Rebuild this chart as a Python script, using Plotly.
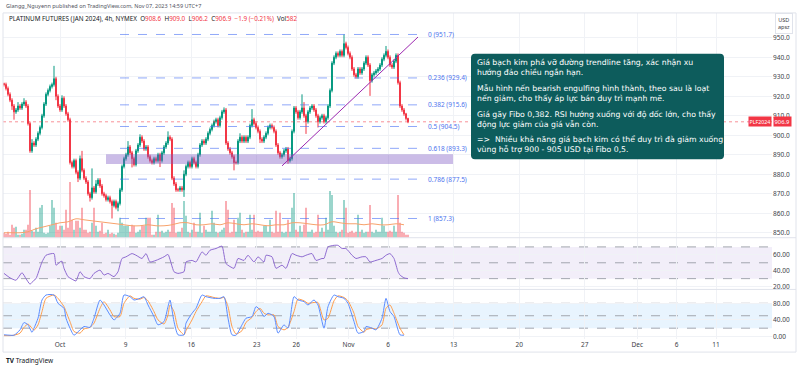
import plotly.graph_objects as go

W, H = 800, 370

# ---------------- data ----------------
first_open = 926.5
closes = [
    926, 924, 921, 918, 915, 912, 913, 915, 914, 916,
    917, 915, 906, 892, 896, 895, 898, 901, 904, 910,
    916, 921, 923, 925, 926, 929, 920, 915, 913, 919,
    915, 911, 908, 886, 884, 887, 881, 878, 888, 882,
    878, 876, 870, 868, 873, 871, 875, 877, 874, 870,
    869, 867, 868, 866, 864, 866, 863, 865, 872, 884,
    888, 890, 894, 891, 888, 885, 892, 895, 899, 897,
    893, 894, 889, 887, 886, 888, 887, 890, 887, 891,
    894, 896, 899, 898, 878, 875, 872, 872, 873, 872,
    880, 884, 886, 884, 888, 886, 884, 890, 895, 897,
    896, 898, 901, 903, 905, 907, 908, 905, 909, 912,
    913, 896, 893, 891, 889, 886, 886, 897, 899, 897,
    899, 897, 899, 905, 908, 906, 904, 902, 898, 897,
    899, 901, 904, 905, 904, 902, 895, 891, 889, 890,
    892, 893, 887, 888, 902, 914, 912, 909, 912, 914,
    910, 907, 912, 914, 915, 913, 910, 907, 909, 910,
    907, 909, 915, 923, 937, 940, 942, 941, 943, 941,
    947, 945, 942, 940, 934, 931, 930, 934, 932, 934,
    937, 940, 936, 928, 931, 932, 933, 934, 936, 939,
    941, 943, 940, 936, 935, 938, 941, 927, 915, 913,
    911, 908.6, 906.9,
]
wick_up = [
    0.5, 1, 1, 1, 1, 1, 1, 2, 1, 1,
    2, 1, 1, 1, 2, 1, 1, 1, 1, 1,
    1, 1, 1, 1, 1, 6.6, 1, 1, 1, 1.5,
    1, 1, 1, 1, 1, 1, 1, 1, 1.6, 4,
    1, 1, 1, 1, 10, 1, 2, 1, 1, 1,
    1, 1, 1, 1, 1, 1, 1, 1, 1, 1,
    1, 1, 3, 1, 1, 1, 1, 1, 1.5, 1,
    1, 1, 1, 1, 1, 1, 1, 1, 1, 1,
    1, 1, 3, 1, 1, 1, 1, 1, 1, 1,
    2, 1, 1, 1, 1, 1, 1, 1, 1, 1,
    1, 1, 1, 1, 1, 1, 1, 1, 1, 1,
    1.3, 1, 1, 1, 1, 1, 1, 1, 2, 1,
    1, 1, 1, 1, 5.4, 1, 1, 1, 1, 1,
    1, 1, 1, 1, 1, 1, 1, 1, 1, 1,
    1, 1, 1, 1, 1, 1, 1, 1, 1, 7,
    3, 1, 1, 1, 1, 1, 1, 1, 1, 1,
    1, 1, 1, 1, 1, 1, 1, 1, 1, 1,
    4.7, 1, 1, 1, 1, 1, 1, 1, 1, 1,
    1, 1, 1, 1, 1, 1, 1, 1, 1, 1,
    1, 2.8, 1, 1, 1, 1, 1, 1, 1, 1,
    1, 0.5, 0.4,
]
wick_dn = [
    1, 1, 1, 1, 2, 4, 1, 1, 1, 1,
    1, 1, 1, 1, 1, 1, 1, 1, 1, 1,
    1, 1, 1, 1, 1, 1, 2, 1, 1, 1,
    1, 1, 1, 1, 1, 1, 1, 2, 1, 1,
    1, 1, 1, 2, 1, 1, 1, 1, 1, 1,
    1, 1, 1, 1, 6.7, 1, 1, 2, 1, 1,
    1, 1, 1, 1, 4.5, 1, 1, 1, 1, 1,
    1, 1, 1, 1, 1, 1, 1, 1, 3.3, 1,
    1, 1, 1, 1, 1, 1, 1, 1, 1, 1,
    3.6, 1, 1, 1, 1, 1, 1, 1, 1, 1,
    1, 1, 1, 1, 1, 1, 1, 1, 1, 1,
    1, 1, 1, 1, 1, 4, 1, 1, 1, 1,
    1, 1, 1, 1, 1, 1, 1, 1, 2, 1,
    1, 1, 1, 1, 1, 1, 1, 1, 1, 1,
    1, 1, 1.6, 1, 1, 1, 1, 1, 1, 1,
    1, 6.3, 1, 1, 1, 1, 1, 3, 1, 1,
    1, 1, 1, 1, 1, 1, 1, 1, 1, 1,
    1, 1, 1, 1, 1, 1, 1, 1, 1, 1,
    1, 1, 1, 7.8, 1, 1, 1, 1, 1, 1,
    1, 1, 1, 1, 1, 1, 1, 1, 1, 1,
    1, 1, 0.7,
]
volumes = [
    1000, 800, 1200, 600, 2600, 2000, 2200, 600, 600, 800,
    1600, 1600, 2600, 9600, 1400, 1200, 2000, 1200, 6000, 6600,
    1000, 800, 1000, 2400, 7600, 6000, 3000, 1600, 2400, 2400,
    1600, 5600, 2000, 11200, 3600, 1600, 3400, 3400, 2000, 6000,
    1600, 1600, 1000, 1200, 3000, 6000, 2400, 1200, 1400, 3000,
    800, 1000, 1600, 800, 1000, 800, 600, 1000, 4000, 3000,
    2400, 2400, 2400, 1200, 2600, 2400, 1000, 1200, 1600, 2400,
    2400, 4000, 4000, 4000, 600, 600, 1200, 4600, 1200, 1400,
    1000, 1200, 1600, 1200, 7000, 6000, 1000, 1200, 1200, 2000,
    7400, 4400, 1200, 1000, 1600, 3000, 1200, 1200, 5000, 1000,
    2400, 1600, 1200, 1200, 5400, 3000, 1200, 1000, 1200, 1600,
    2000, 7400, 5600, 1000, 1200, 3600, 1200, 4000, 5000, 1600,
    1000, 1200, 1200, 4600, 1600, 4600, 1200, 1400, 1200, 1200,
    2400, 2400, 1200, 3600, 1200, 1000, 5400, 1200, 5000, 1200,
    1000, 1200, 3600, 1200, 6000, 9000, 1600, 1200, 2400, 1200,
    2600, 6000, 1200, 1200, 1600, 1000, 1200, 4600, 1200, 2000,
    1200, 4000, 1600, 9400, 8600, 2400, 1200, 1000, 1200, 1600,
    7600, 6000, 1000, 1200, 1400, 1000, 1200, 4600, 1200, 1600,
    1000, 1200, 1200, 6600, 1200, 1000, 1600, 1200, 1200, 4000,
    2400, 1200, 1200, 1400, 1200, 2400, 1200, 8600, 3000, 1200,
    1000, 600, 582,
]
vol_ma_bar = list(range(0, 201, 4))
vol_ma = [1000, 1000, 1000, 1200, 1800, 2200, 2600, 3000, 3200, 3800,
          3600, 3400, 3200, 3000, 2800, 2600, 2400, 2400, 2600, 2400,
          2400, 2600, 3000, 3000, 2600, 2600, 2800, 2600, 3000, 2800,
          2600, 2800, 2600, 2400, 2600, 2600, 3000, 3000, 2800, 2600,
          2600, 3200, 3000, 2800, 2800, 2600, 2800, 2600, 2600, 2800, 2600]

rsi_bar = [0, 3, 6, 9, 11, 13, 15, 16, 19, 21, 25, 26, 28, 29, 30, 32, 35, 36, 38, 40,
           43, 45, 48, 50, 52, 55, 57, 59, 61, 64, 66, 69, 71, 73, 76, 80, 82, 85, 87, 90,
           91, 94, 96, 99, 101, 103, 106, 109, 111, 115, 117, 120, 122, 125, 127, 130, 131, 134, 136, 139,
           141, 144, 146, 149, 151, 154, 156, 159, 160, 162, 165, 167, 169, 171, 174, 176, 179, 181, 183, 186,
           189, 191, 193, 195, 197, 198, 200, 202]
rsi_val = [36.6, 31, 28, 37.5, 30, 23, 28, 30, 51, 59.5, 61.6, 47, 51, 52, 43, 32.5, 28, 27, 38.7, 32.5,
           30, 36.6, 40.8, 34.5, 36.6, 32.5, 38.7, 55.4, 57.5, 61.6, 59.5, 55.4, 61.6, 51, 53, 57.5, 60.5, 38.7, 36.6, 38.7,
           51, 53, 51, 63.7, 59.5, 65.8, 68, 71, 49, 43, 55.4, 53, 59.5, 51, 57.5, 51, 59.5, 57.5, 43, 47,
           43, 61.6, 59.5, 57.5, 59.5, 61.6, 53, 55.4, 55.4, 70, 72, 72, 68, 68, 59.5, 55.4, 57.5, 57.5, 51, 53,
           55.4, 59.5, 61.6, 55.4, 38.7, 34.5, 31, 30]

stoch_bar = [0, 3, 5, 8, 10, 12, 14, 15, 17, 19, 21, 25, 27, 30, 31, 33, 35, 38, 40, 43,
             45, 48, 50, 53, 55, 58, 60, 63, 65, 68, 70, 72, 75, 77, 80, 82, 83, 85, 87, 90,
             91, 94, 96, 99, 101, 105, 108, 110, 112, 114, 116, 119, 121, 124, 126, 128, 130, 132, 135, 137,
             140, 142, 145, 147, 150, 152, 155, 157, 160, 162, 165, 167, 170, 172, 175, 177, 180, 181, 184, 186,
             189, 191, 193, 195, 198, 200]
stoch_k = [4, 3, 3, 16, 33.6, 28, 10, 20, 44, 88, 100, 100, 80, 68, 44, 20, 3, 16, 24, 22,
           44, 88, 76, 52, 40, 56, 100, 96, 88, 92, 96, 76, 48, 28, 36, 72, 88, 36, 4, 4,
           32, 56, 68, 100, 96, 92, 92, 96, 44, 4, 3, 28, 44, 48, 72, 64, 48, 56, 48, 8,
           28, 20, 96, 88, 84, 76, 88, 76, 20, 72, 100, 96, 92, 80, 36, 8, 12, 24, 20, 16,
           44, 92, 60, 48, 4, 3]
stoch_d = [2, 2, 3, 8, 22, 30, 20, 15, 28, 60, 92, 100, 92, 72, 60, 36, 12, 8, 18, 22,
           32, 68, 84, 64, 48, 48, 80, 98, 92, 90, 94, 86, 60, 40, 30, 52, 76, 60, 20, 4,
           14, 40, 60, 84, 98, 94, 92, 94, 72, 24, 6, 14, 34, 46, 60, 68, 56, 52, 52, 24,
           16, 22, 60, 90, 86, 80, 82, 82, 40, 44, 86, 98, 94, 86, 56, 24, 10, 16, 20, 18,
           28, 68, 76, 56, 20, 4]

fib_ratio = ["0", "0.236", "0.382", "0.5", "0.618", "0.786", "1"]
fib_price = [951.7, 929.4, 915.6, 904.5, 893.3, 877.5, 857.3]

tick_labels = ["Oct", "9", "16", "23", "26", "Nov", "6", "13", "20", "27", "Dec", "6", "11"]
tick_days = [0, 5, 10, 15, 18, 22, 25, 30, 35, 40, 44, 47, 50]  # weekdays after Oct 2

price_ticks = [850, 860, 870, 880, 890, 900, 910, 920, 930, 940, 950]
zone_low, zone_high = 885.2, 890.3
trend_start = (139, 884.3)
trend_end = (207, 950.4)
last_price = 906.9

note_paragraphs = [
    "Giá bạch kim phá vỡ đường trendline tăng, xác nhận xu<br>hướng đảo chiều ngắn hạn.",
    "Mẫu hình nến bearish engulfing hình thành, theo sau là loạt<br>nến giảm, cho thấy áp lực bán duy trì mạnh mẽ.",
    "Giá gãy Fibo 0,382. RSI hướng xuống với độ dốc lớn, cho thấy<br>động lực giảm của giá vẫn còn.",
    "=>  Nhiều khả năng giá bạch kim có thể duy trì đà giảm xuống<br>vùng hỗ trợ 900 - 905 USD tại Fibo 0,5.",
]

# ---------------- derived ----------------
n = len(closes)
bars = list(range(n))
opens = [first_open] + closes[:-1]
highs = [max(o, c) + u for o, c, u in zip(opens, closes, wick_up)]
lows = [min(o, c) - d for o, c, d in zip(opens, closes, wick_dn)]
UP, DN = "#089981", "#f23645"
vol_colors = ["rgba(8,153,129,0.45)" if c >= o else "rgba(242,54,69,0.45)" for o, c in zip(opens, closes)]

OCT2_BAR = 28
BARS_PER_DAY = 6.56
tick_pos = [OCT2_BAR + d * BARS_PER_DAY for d in tick_days]

def px_x(p):
    return p / W

def px_y(p):
    return 1 - p / H

FONT = "Noto Sans"
AXIS_FONT = dict(family=FONT, size=6.5, color="#3b3e47")
GRID = "#f0f2f6"
XR = [-0.5, 384]
XDOM = [px_x(3), px_x(772)]

fig = go.Figure()

fig.add_trace(go.Bar(x=bars, y=volumes, marker=dict(color=vol_colors, line=dict(width=0)),
                     width=0.9, xaxis="x", yaxis="y2", hoverinfo="skip", showlegend=False))
fig.add_trace(go.Scatter(x=vol_ma_bar, y=vol_ma, mode="lines", line=dict(color="#f7a26b", width=1, shape="spline"),
                         xaxis="x", yaxis="y2", hoverinfo="skip", showlegend=False))
fig.add_trace(go.Candlestick(x=bars, open=opens, high=highs, low=lows, close=closes,
                             increasing=dict(line=dict(color=UP, width=1), fillcolor=UP),
                             decreasing=dict(line=dict(color=DN, width=1), fillcolor=DN),
                             whiskerwidth=0, xaxis="x", yaxis="y", hoverinfo="skip", showlegend=False))
fig.add_trace(go.Scatter(x=rsi_bar, y=rsi_val, mode="lines",
                         line=dict(color="#8e6bd0", width=1, shape="spline", smoothing=0.5),
                         xaxis="x2", yaxis="y3", hoverinfo="skip", showlegend=False))
fig.add_trace(go.Scatter(x=stoch_bar, y=stoch_d, mode="lines",
                         line=dict(color="#ff9c4a", width=1, shape="spline", smoothing=0.6),
                         xaxis="x3", yaxis="y4", hoverinfo="skip", showlegend=False))
fig.add_trace(go.Scatter(x=stoch_bar, y=stoch_k, mode="lines",
                         line=dict(color="#5b8cff", width=1, shape="spline", smoothing=0.6),
                         xaxis="x3", yaxis="y4", hoverinfo="skip", showlegend=False))

shapes = []
shapes.append(dict(type="rect", xref="x2 domain", yref="y3", x0=0, x1=1, y0=30, y1=70,
                   fillcolor="rgba(126,87,194,0.10)", line=dict(width=0), layer="below"))
for lv in (70, 50, 30):
    shapes.append(dict(type="line", xref="x2 domain", yref="y3", x0=0, x1=1, y0=lv, y1=lv,
                       line=dict(color="#a3a6af", width=1, dash="dash"), layer="below"))
shapes.append(dict(type="rect", xref="x3 domain", yref="y4", x0=0, x1=1, y0=20, y1=80,
                   fillcolor="rgba(33,150,243,0.10)", line=dict(width=0), layer="below"))
for lv in (80, 50, 20):
    shapes.append(dict(type="line", xref="x3 domain", yref="y4", x0=0, x1=1, y0=lv, y1=lv,
                       line=dict(color="#a3a6af", width=1, dash="dash"), layer="below"))
shapes.append(dict(type="line", xref="x domain", yref="y", x0=0, x1=1, y0=last_price, y1=last_price,
                   line=dict(color="rgba(242,54,69,0.55)", width=1, dash="dot")))
shapes.append(dict(type="rect", xref="x", yref="y", x0=51, x1=224.5, y0=zone_low, y1=zone_high,
                   fillcolor="rgba(126,87,194,0.40)", line=dict(width=0)))
for p in fib_price:
    shapes.append(dict(type="line", xref="x", yref="y", x0=58, x1=209.5, y0=p, y1=p,
                       line=dict(color="rgba(70,110,245,0.6)", width=1, dash="dash")))
shapes.append(dict(type="line", xref="x", yref="y", x0=trend_start[0], y0=trend_start[1],
                   x1=trend_end[0], y1=trend_end[1], line=dict(color="#9c27b0", width=1)))
shapes.append(dict(type="rect", xref="paper", yref="paper", x0=px_x(3), x1=px_x(796),
                   y0=px_y(354), y1=px_y(13), line=dict(color="#e0e3eb", width=1)))
for yy in (239, 291):
    shapes.append(dict(type="line", xref="paper", yref="paper", x0=px_x(3), x1=px_x(796),
                       y0=px_y(yy), y1=px_y(yy), line=dict(color="#e0e3eb", width=1)))
bx0, bx1, by0, by1 = px_x(471), px_x(724), px_y(160), px_y(54)
rx, ry = 4 / W, 4 / H
path = (f"M {bx0+rx},{by1} L {bx1-rx},{by1} Q {bx1},{by1} {bx1},{by1-ry} "
        f"L {bx1},{by0+ry} Q {bx1},{by0} {bx1-rx},{by0} L {bx0+rx},{by0} "
        f"Q {bx0},{by0} {bx0},{by0+ry} L {bx0},{by1-ry} Q {bx0},{by1} {bx0+rx},{by1} Z")
shapes.append(dict(type="path", xref="paper", yref="paper", path=path,
                   fillcolor="#0d5c5c", line=dict(width=0)))

ann = []
for r, p in zip(fib_ratio, fib_price):
    ann.append(dict(x=211, y=p, xref="x", yref="y", text=f"{r} ({p})", showarrow=False,
                    xanchor="left", yanchor="middle", font=dict(family=FONT, size=6.5, color="#4d74ee")))
para_y = [68.3, 94.3, 120, 145.5]
for t, yy in zip(note_paragraphs, para_y):
    ann.append(dict(x=px_x(476), y=px_y(yy), xref="paper", yref="paper", text=t, showarrow=False,
                    xanchor="left", yanchor="middle", align="left", borderpad=0,
                    font=dict(family="DejaVu Sans", size=7.75, color="white")))
ann.append(dict(x=px_x(4), y=px_y(6.5), xref="paper", yref="paper", showarrow=False,
                xanchor="left", yanchor="middle",
                text="Glangg_Nguyenn published on TradingView.com, Nov 07, 2023 14:59 UTC+7",
                font=dict(family=FONT, size=5.5, color="#50535e")))
red = "#f23645"
legend = ("PLATINUM FUTURES (JAN 2024), 4h, NYMEX  "
          f"O<span style='color:{red}'>908.6</span>  H<span style='color:{red}'>909.0</span>  "
          f"L<span style='color:{red}'>906.2</span>  C<span style='color:{red}'>906.9</span>  "
          f"<span style='color:{red}'>−1.9 (−0.21%)</span>  Vol<span style='color:{red}'>582</span>")
ann.append(dict(x=px_x(7), y=px_y(18.5), xref="paper", yref="paper", showarrow=False,
                xanchor="left", yanchor="middle", text=legend,
                font=dict(family=FONT, size=6.3, color="#131722")))
ann.append(dict(x=px_x(772), y=last_price, xref="paper", yref="y", showarrow=False,
                xanchor="right", yanchor="middle", text="PLF2024", bgcolor=red, borderpad=0.5,
                font=dict(family=FONT, size=5.3, color="white")))
ann.append(dict(x=px_x(773), y=last_price, xref="paper", yref="y", showarrow=False,
                xanchor="left", yanchor="middle", text="906.9", bgcolor=red, borderpad=0.5,
                font=dict(family=FONT, size=5.8, color="white")))
ann.append(dict(x=px_x(784), y=px_y(24), xref="paper", yref="paper", showarrow=False,
                xanchor="center", yanchor="middle", text="USD<br>apsz", bgcolor="white",
                bordercolor="#e0e3eb", borderwidth=1, borderpad=2,
                font=dict(family=FONT, size=5.5, color="#3b3e47")))
ann.append(dict(x=px_x(4), y=px_y(362), xref="paper", yref="paper", showarrow=False,
                xanchor="left", yanchor="middle", text="<b>TV</b> TradingView",
                font=dict(family=FONT, size=6.5, color="#131722")))

common_x = dict(range=XR, domain=XDOM, showgrid=True, gridcolor=GRID, zeroline=False,
                tickvals=tick_pos, fixedrange=True, showline=False)

fig.update_layout(
    width=W, height=H, margin=dict(l=0, r=0, t=0, b=0),
    paper_bgcolor="white", plot_bgcolor="white", showlegend=False,
    xaxis=dict(**common_x, anchor="y", showticklabels=False, rangeslider=dict(visible=False)),
    xaxis2=dict(**common_x, anchor="y3", showticklabels=False),
    xaxis3=dict(**common_x, anchor="y4", ticktext=tick_labels, showticklabels=True,
                tickfont=AXIS_FONT, ticks=""),
    yaxis=dict(domain=[px_y(239), px_y(13)], range=[850 - 5 / 1.96, 950 + 25 / 1.96], side="right",
               tickvals=price_ticks, ticktext=[f"{v:.1f}" for v in price_ticks],
               tickfont=AXIS_FONT, showgrid=True, gridcolor=GRID, zeroline=False, fixedrange=True),
    yaxis2=dict(overlaying="y", range=[0, 45200], visible=False, fixedrange=True),
    yaxis3=dict(domain=[px_y(291), px_y(239)], range=[16.4, 81.6], side="right",
                tickvals=[20, 40, 60], ticktext=["20.00", "40.00", "60.00"], tickfont=AXIS_FONT,
                showgrid=True, gridcolor=GRID, zeroline=False, fixedrange=True),
    yaxis4=dict(domain=[px_y(341), px_y(291)], range=[-6.5, 113.5], side="right",
                tickvals=[0, 40, 80], ticktext=["0.00", "40.00", "80.00"], tickfont=AXIS_FONT,
                showgrid=True, gridcolor=GRID, zeroline=False, fixedrange=True),
    shapes=shapes, annotations=ann,
)

fig.write_html("out.html", config={"displayModeBar": False},
               post_script="document.body.style.margin='0';document.body.style.overflow='hidden';")
